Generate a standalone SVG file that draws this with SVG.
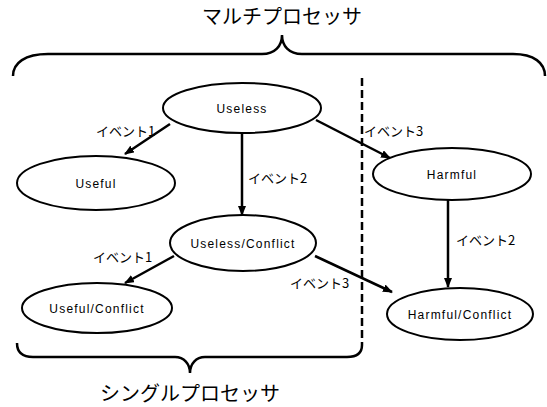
<svg xmlns="http://www.w3.org/2000/svg" width="547" height="407" viewBox="0 0 547 407">
<defs>
<marker id="ah" markerWidth="10" markerHeight="8" refX="9" refY="4" orient="auto" markerUnits="userSpaceOnUse">
<path d="M0,0 L10,4 L0,8 z" fill="#000"/>
</marker>
<style>
.node ellipse{fill:#fff;stroke:#000;stroke-width:2}
.node text{font-family:"Liberation Sans",Arial,sans-serif;font-size:12px;letter-spacing:1.2px;text-anchor:middle;fill:#000}
.conn line{stroke:#000;stroke-width:2.5;marker-end:url(#ah)}
.lbl{font-family:"Noto Sans CJK JP",sans-serif;font-size:13px;fill:#000}
.big{font-family:"Noto Sans CJK JP",sans-serif;font-size:20px;fill:#000;text-anchor:middle}
.brace{fill:none;stroke:#000;stroke-width:2.5}
</style>
</defs>
<rect width="547" height="407" fill="#fff"/>
<text class="big" x="282" y="24">マルチプロセッサ</text>
<path class="brace" d="M13,76 C13,63 25,54 48,54 L262,54 C275,54 282,46 282,35 C282,46 289,54 302,54 L513,54 C534,54 545,63 545,76"/>
<line x1="362" y1="78" x2="362" y2="345" stroke="#000" stroke-width="2.5" stroke-dasharray="8,4"/>
<path class="brace" d="M17,343 C17,352 22,357 33,357 L175,357 C184,357 190,364 190,373 C190,364 196,357 205,357 L347,357 C358,357 362,352 362,345"/>
<text class="big" x="190" y="401">シングルプロセッサ</text>
<g class="conn">
<line x1="170" y1="124" x2="125" y2="154"/>
<line x1="242" y1="133" x2="242" y2="215"/>
<line x1="316" y1="120" x2="390" y2="158"/>
<line x1="448" y1="200" x2="448" y2="287"/>
<line x1="174" y1="256" x2="125" y2="283"/>
<line x1="315" y1="256" x2="392" y2="292"/>
</g>
<text class="lbl" x="96" y="136">イベント1</text>
<text class="lbl" x="248" y="183">イベント2</text>
<text class="lbl" x="364" y="136">イベント3</text>
<text class="lbl" x="456" y="245">イベント2</text>
<text class="lbl" x="93" y="262">イベント1</text>
<text class="lbl" x="290" y="288">イベント3</text>
<g id="useless" class="node"><ellipse cx="242" cy="108" rx="79" ry="25"/><text x="242" y="113">Useless</text></g>
<g id="useful" class="node"><ellipse cx="96" cy="183" rx="79" ry="27"/><text x="96" y="188">Useful</text></g>
<g id="harmful" class="node"><ellipse cx="452" cy="174" rx="79" ry="26"/><text x="452" y="179">Harmful</text></g>
<g id="useless-conflict" class="node"><ellipse cx="243" cy="243" rx="73" ry="28"/><text x="243" y="248">Useless/Conflict</text></g>
<g id="useful-conflict" class="node"><ellipse cx="97" cy="308" rx="75" ry="25"/><text x="97" y="313">Useful/Conflict</text></g>
<g id="harmful-conflict" class="node"><ellipse cx="460" cy="314" rx="73" ry="26"/><text x="460" y="319">Harmful/Conflict</text></g>
</svg>
